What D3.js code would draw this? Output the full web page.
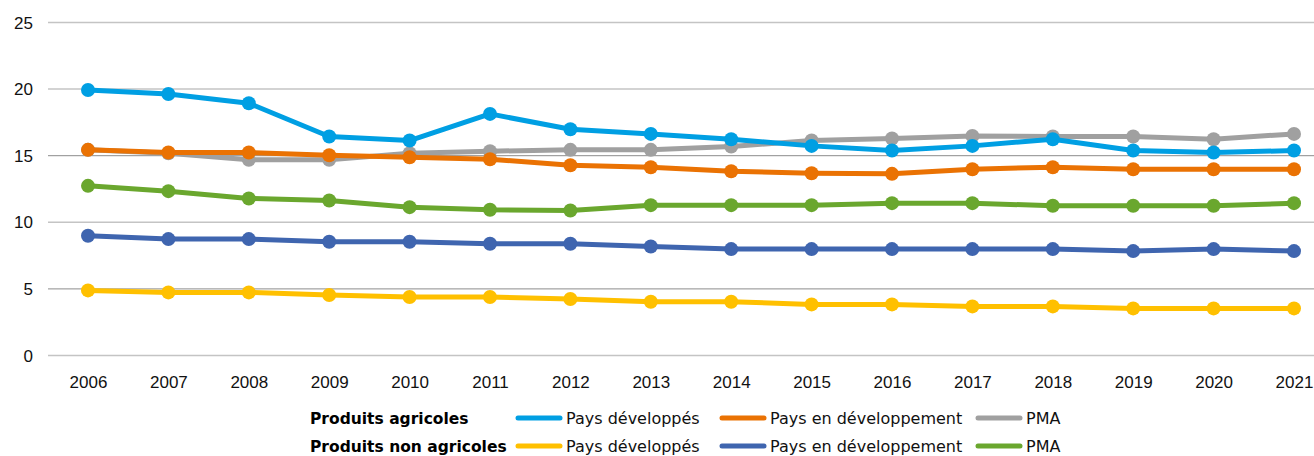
<!DOCTYPE html>
<html>
<head>
<meta charset="utf-8">
<script src="https://cdn.jsdelivr.net/npm/d3@7"></script>
<style>
  body { margin: 0; background: #fff; }
  svg { display: block; font-family: "DejaVu Sans", sans-serif; }
  .tick text { fill: #111; font-size: 17px; }
  .legTitle { font-weight: bold; font-size: 15.5px; fill: #000; }
  .legText { font-size: 16px; fill: #111; }
</style>
</head>
<body>
<div id="main"></div>
<script>
var years = [2006, 2007, 2008, 2009, 2010, 2011, 2012, 2013, 2014, 2015, 2016, 2017, 2018, 2019, 2020, 2021];
var yTicks = [0, 5, 10, 15, 20, 25];

// produits agricoles
var agriDeveloped  = [19.9, 19.6, 18.9, 16.4, 16.1, 18.1, 16.95, 16.6, 16.2, 15.7, 15.35, 15.7, 16.2, 15.35, 15.2, 15.35];
var agriDeveloping = [15.4, 15.2, 15.2, 15.0, 14.85, 14.7, 14.25, 14.1, 13.8, 13.65, 13.6, 13.95, 14.1, 13.95, 13.95, 13.95];
var agriPMA        = [15.4, 15.15, 14.65, 14.65, 15.15, 15.3, 15.4, 15.4, 15.65, 16.1, 16.25, 16.45, 16.4, 16.4, 16.2, 16.6];
// produits non agricoles
var nonAgriDeveloped  = [4.85, 4.7, 4.7, 4.5, 4.35, 4.35, 4.2, 4.0, 4.0, 3.8, 3.8, 3.65, 3.65, 3.5, 3.5, 3.5];
var nonAgriDeveloping = [8.95, 8.7, 8.7, 8.5, 8.5, 8.35, 8.35, 8.15, 7.95, 7.95, 7.95, 7.95, 7.95, 7.8, 7.95, 7.8];
var nonAgriPMA        = [12.7, 12.3, 11.75, 11.6, 11.1, 10.9, 10.85, 11.25, 11.25, 11.25, 11.4, 11.4, 11.2, 11.2, 11.2, 11.4];

var groupLabels = ["Produits agricoles", "Produits non agricoles"];
var seriesLabels = ["Pays développés", "Pays en développement", "PMA"];

var ctx = { w: 1314, h: 456 };

// drawing order: first drawn ends up underneath
var series = [
  {values: agriPMA,           color: "#a0a0a0", row: 0, col: 2},
  {values: nonAgriPMA,        color: "#6aa72e", row: 1, col: 2},
  {values: nonAgriDeveloping, color: "#3f65af", row: 1, col: 1},
  {values: nonAgriDeveloped,  color: "#ffc000", row: 1, col: 0},
  {values: agriDeveloping,    color: "#ea7203", row: 0, col: 1},
  {values: agriDeveloped,     color: "#009fe3", row: 0, col: 0}
];

var svg = d3.select("#main").append("svg")
  .attr("width", ctx.w).attr("height", ctx.h);

var x = d3.scalePoint().domain(years).range([88, 1294]);
var y = d3.scaleLinear().domain([0, 25]).range([355, 22]);

// grid + y labels
var yAxis = svg.append("g")
  .attr("transform", "translate(48,0)")
  .call(d3.axisLeft(y).tickValues(yTicks).tickSize(0).tickPadding(15));
yAxis.select(".domain").remove();
yAxis.selectAll(".tick text").attr("dy", "0.36em");
yAxis.selectAll(".tick").append("line")
  .attr("x1", 0).attr("x2", ctx.w - 48)
  .attr("stroke", function(d){ return (d === 5 || d === 15) ? "#8c8c8c" : "#c4c4c4"; })
  .attr("stroke-width", function(d){ return (d === 5 || d === 15) ? 1 : 1.5; });

// x labels
var xAxis = svg.append("g")
  .attr("transform", "translate(0,355)")
  .call(d3.axisBottom(x).tickSize(0).tickPadding(21).tickFormat(d3.format("d")));
xAxis.select(".domain").remove();

var line = d3.line()
  .x(function(d, i){ return x(years[i]); })
  .y(function(d){ return y(d); });

series.forEach(function(s){
  var g = svg.append("g");
  g.append("path")
    .attr("d", line(s.values))
    .attr("fill", "none")
    .attr("stroke", s.color)
    .attr("stroke-width", 5)
    .attr("stroke-linejoin", "round");
  g.selectAll("circle")
    .data(s.values)
    .enter()
    .append("circle")
    .attr("cx", function(d, i){ return x(years[i]); })
    .attr("cy", function(d){ return y(d); })
    .attr("r", 7)
    .attr("fill", s.color);
});

// legend
var legRowY = [418, 446];
var legColX = [516, 720, 976];
var legend = svg.append("g");
groupLabels.forEach(function(t, r){
  legend.append("text")
    .attr("class", "legTitle")
    .attr("x", 310).attr("y", legRowY[r] + 6)
    .text(t);
});
series.forEach(function(s){
  var lx = legColX[s.col], ly = legRowY[s.row];
  legend.append("line")
    .attr("x1", lx + 2).attr("x2", lx + 44)
    .attr("y1", ly).attr("y2", ly)
    .attr("stroke", s.color)
    .attr("stroke-width", 5)
    .attr("stroke-linecap", "round");
  legend.append("text")
    .attr("class", "legText")
    .attr("x", lx + 50).attr("y", ly + 6)
    .text(seriesLabels[s.col]);
});
</script>
</body>
</html>
